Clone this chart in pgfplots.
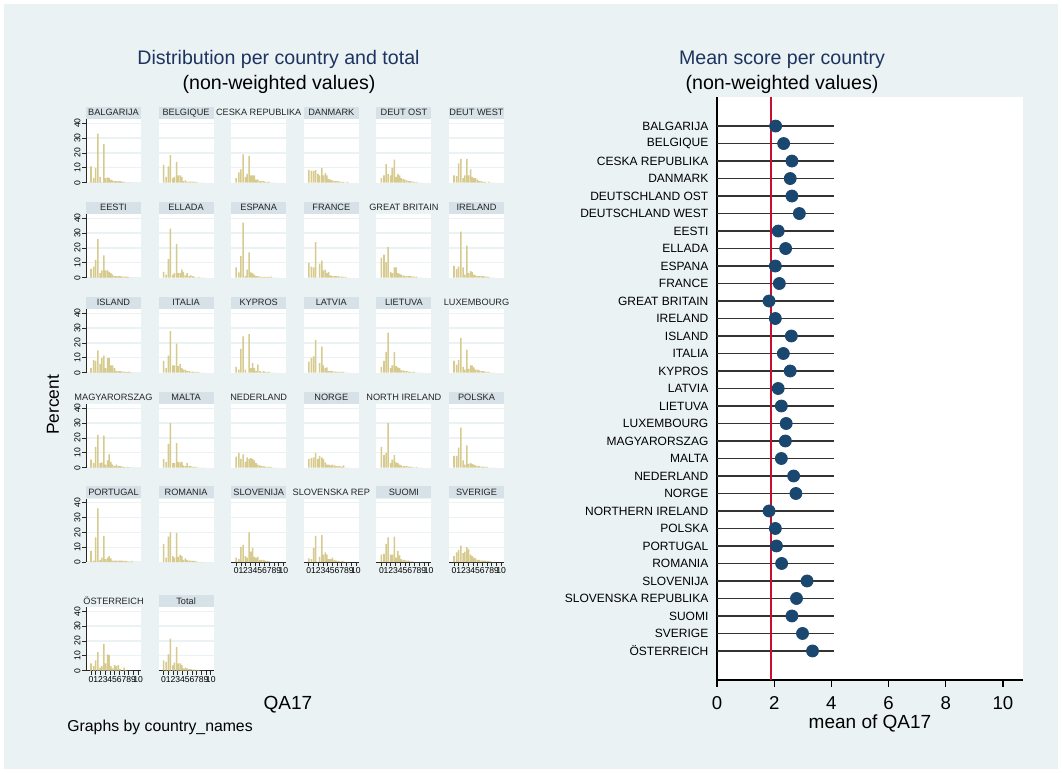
\documentclass[border=0pt]{standalone}
\usepackage{fontspec}
\setmainfont{Liberation Sans}
\usepackage{pgfplots}
\usepackage{pgfplotstable}
\pgfplotsset{compat=1.18}
\definecolor{bgc}{RGB}{234,242,243}
\definecolor{hdr}{RGB}{214,226,231}
\definecolor{gridc}{RGB}{234,242,243}
\definecolor{barc}{RGB}{214,202,142}
\definecolor{dotc}{RGB}{26,71,111}
\definecolor{redc}{RGB}{200,16,46}
\definecolor{titc}{RGB}{30,52,96}

% one row per panel: bar heights (percent) at the bin positions given in row x
\pgfplotstableread{
name k0 k1 k2 k3 k4 k5 k6 k7 k8 k9 k10 k11 k12 k13 k14 k15 k16 k17 k18 k19 k20 k21
x 0 0.55 1.0 1.45 1.95 2.3 2.75 3.1 3.5 3.85 4.2 4.6 5.0 5.4 5.8 6.2 6.6 7.0 7.4 7.8 8.2 8.6
c1 11 3 10 33 4 0 26 3 3.5 3 2 1.5 1 1 1 1 0.7 0.5 0 0 0 0
c2 12 4 11 18.5 3 4 14 5 5 4 1 1.5 0.5 0.7 0.7 0.7 0.5 0.5 0 0 0 0
c3 3 7 9 19 4 6 18 5 5 5 2 2 1 1 1 0.5 0.5 0.5 0 0 0 0
c4 8.5 8 8 8.5 6 5 10 5 6.5 5 2.5 2 1.5 1 1 1 0.8 0.5 0.5 0 0.5 0
c5 3 5 12.5 6 5 10 15.5 4 6 5 3 2.5 2 1.5 1 1 0.7 0.5 0.5 0 0 0
c6 5 4.5 13 16 3 5 16 5 9 4 3 3 2 1 1 0.5 0.5 0 0.5 0 0 0
c7 6 7.5 12 26 3 5 15 5 5 4 3 2 1 1 1 1 0.8 0.8 0.7 0.7 0 0
c8 4 2 12.5 33 2 3 22.5 3 3 5.5 4 1.5 3 1 1.5 1 0.5 0 0.5 0 0 0
c9 7 3.5 14.5 37 1 5.5 17 3.5 3 2 1 1 0.7 0.5 0.5 0.5 0.5 0.5 0.7 0 0 0
c10 10 7.5 7 24 0 9.5 11.5 5 5.5 3 4 1.5 1 1 1 1 0.8 0.8 0.5 0.5 0 0
c11 13.5 15.5 10.5 20.5 4 3 7 7 3 2.5 2 1.5 1 1 1 1 0.8 0.7 0.7 0 0 0
c12 8 6 7.5 31 7 2 21.5 3 4.5 4 2 1.5 1 1 1 1 0.8 0.7 0.5 0 0 0
c13 3 8.5 8 15 6 10 11.5 3 10 10 5 5 3 1 1 1 0.8 0.7 0.5 0.5 0.8 0
c14 8 3 11.5 28 5 5 19.5 4.5 6 3 2 2 1 1 0.7 0.7 0.5 0.5 0.5 0 0 0
c15 4 2 16 24.5 2 0 26 3 6.5 3 1 5.5 1 0.5 1 0.5 0.5 0.5 0 0 0 0
c16 7.5 10 11 22 0 6.5 17.5 5 3 3.5 1 1 1 0.7 0.7 0.5 0.5 0.5 0.5 0 0 0
c17 4 8 14 27 3 5 14 4.5 3.5 3 1.5 1.5 1 1 0.7 0.5 0.5 0.5 0 0 0 0
c18 8 5.5 8.5 23.5 4 2 15.5 2.5 5 5 3.5 2 2 1.5 1 1 0.8 0.5 0.5 0 0 0
c19 5.5 3 14 22 3 3.5 21.5 2 5 9 4 2 1 2 1 1 0.7 0.5 0 0.5 0 0
c20 6 4 16 30 3 3 16.5 4 3.5 4 1.5 1 3 1 1 0.5 0.5 0.5 0 0 0 0
c21 7.5 10 6 9 4 7 6 6.5 6 5 3 2 1.5 1 1 0.7 0.5 0.5 0.5 0 0 0
c22 6 6.5 7 10 6 8 7 6 3.5 2 2 1.5 2 1.5 1 1 1 0.8 1.5 0 0 0
c23 14 8.5 10 30 3 5.5 8.5 3.5 3 2 1.5 1 1 1 0.8 0.7 0.5 0 0.5 0 0 0
c24 8 8 13.5 27 5 2 15 2.5 3 2.5 2 1.5 1 1 0.7 0.7 0.5 0.5 0 0 0 0
c25 7.5 1 16.5 36 1.5 3 17.5 2 3 4 2.5 1 1 1 1 1 1 0.8 0.8 0.5 0 0.8
c26 12 3 17 20 4 3 19.5 3.5 5 4 1.5 2.5 1.5 1 1 0.8 0.8 0.5 0 0 0 0
c27 3 2 10 11.5 4 3 20 7 9.5 3.5 3 3.5 1.5 1.5 1.5 1 0.8 0.5 0 0 0 0
c28 2.5 2 9.5 17.5 0 3.5 18 5 6.5 5 2 2 3 1.5 1 0.8 0.5 0.5 0.5 0 0 0
c29 5 5.5 12 16.5 5 5 17 3 7.5 4.5 2 1.5 1.5 1 1 0.5 0.5 0 0 0 0 0
c30 4 6.5 8 11 6 7 10 8.5 5 4 3 2.5 1.5 1.5 1 1 1 0.7 0.7 0.5 0 0
c31 5 3 7 12.5 2 3 18 5 11 10.5 3 1.5 4 3 4 1 0 2 0.5 0 0 0
c32 7 6 11 21.5 3.5 5.5 16 5 5 4 1.5 2 1.5 1 1 0.7 0.7 0.5 0.5 0 0 0
}\histraw
\pgfplotstabletranspose[colnames from=name]\histT\histraw

\pgfplotsset{
 panel/.style={anchor=south west, scale only axis, width=27.5pt, height=31.75pt,
   xmin=-1.06, xmax=10.6, ymin=0, ymax=42.7,
   axis lines*=left,
   axis background/.style={fill=white},
   x axis line style={draw=none}, y axis line style={draw=none},
   xtick=\empty, ytick={10,20,30,40}, yticklabels={},
   ytick style={draw=none},
   ymajorgrids, grid style={draw=gridc, line width=0.6pt},
   tick align=outside, major tick length=2pt,
   tick style={black!85, line width=0.35pt},
   tick label style={font=\fontsize{4.3}{5}\selectfont, inner sep=0.6pt},
   /pgf/number format/assume math mode=true,
   every axis title shift=0pt,
   title style={at={(0.5,1)}, anchor=south, yshift=0pt, fill=hdr,
     minimum width=27.5pt, minimum height=6pt, inner sep=0pt,
     font=\fontsize{4.6}{5}\selectfont, text=black!85},
 },
 nobox/.style={title style={fill=none}},
 yax/.style={y axis line style={draw=black!85, line width=0.5pt},
   ytick={0,10,20,30,40}, yticklabels={0,10,20,30,40},
   ytick style={draw=black!85}, yticklabel style={rotate=90, anchor=south}},
 xax/.style={x axis line style={draw=black!85, line width=0.5pt},
   xtick={0,1,...,10}},
}

\newcommand\panel[5]{%
\begin{axis}[panel, at={(#1pt,#2pt)}, title={#4}, #5]
\addplot[ybar, bar width=0.32, bar shift=0pt, fill=barc, draw=none] table[x=x, y=#3] {\histT};
\end{axis}}

\begin{document}
\begin{tikzpicture}
\fill[white] (0,0) rectangle (531pt,386.5pt);
\fill[bgc] (2pt,2pt) rectangle (529pt,384.5pt);

% ---- small multiples ----
\panel{43}{295.15}{c1}{BALGARIJA}{yax}
\panel{79.3}{295.15}{c2}{BELGIQUE}{}
\panel{115.6}{295.15}{c3}{CESKA REPUBLIKA}{nobox}
\panel{151.9}{295.15}{c4}{DANMARK}{}
\panel{188.2}{295.15}{c5}{DEUT OST}{}
\panel{224.5}{295.15}{c6}{DEUT WEST}{}

\panel{43}{247.65}{c7}{EESTI}{yax}
\panel{79.3}{247.65}{c8}{ELLADA}{}
\panel{115.6}{247.65}{c9}{ESPANA}{}
\panel{151.9}{247.65}{c10}{FRANCE}{}
\panel{188.2}{247.65}{c11}{GREAT BRITAIN}{nobox}
\panel{224.5}{247.65}{c12}{IRELAND}{}

\panel{43}{200.15}{c13}{ISLAND}{yax}
\panel{79.3}{200.15}{c14}{ITALIA}{}
\panel{115.6}{200.15}{c15}{KYPROS}{}
\panel{151.9}{200.15}{c16}{LATVIA}{}
\panel{188.2}{200.15}{c17}{LIETUVA}{}
\panel{224.5}{200.15}{c18}{LUXEMBOURG}{nobox}

\panel{43}{152.65}{c19}{MAGYARORSZAG}{yax,nobox}
\panel{79.3}{152.65}{c20}{MALTA}{}
\panel{115.6}{152.65}{c21}{NEDERLAND}{nobox}
\panel{151.9}{152.65}{c22}{NORGE}{}
\panel{188.2}{152.65}{c23}{NORTH IRELAND}{nobox}
\panel{224.5}{152.65}{c24}{POLSKA}{}

\panel{43}{105.5}{c25}{PORTUGAL}{yax}
\panel{79.3}{105.5}{c26}{ROMANIA}{}
\panel{115.6}{105.5}{c27}{SLOVENIJA}{xax}
\panel{151.9}{105.5}{c28}{SLOVENSKA REP}{xax,nobox}
\panel{188.2}{105.5}{c29}{SUOMI}{xax}
\panel{224.5}{105.5}{c30}{SVERIGE}{xax}

\panel{43}{51.15}{c31}{ÖSTERREICH}{yax,xax,nobox}
\panel{79.3}{51.15}{c32}{Total}{xax}

% ---- left texts ----
\node[titc, font=\fontsize{9.8}{11}\selectfont, anchor=base] at (139.25pt,354pt) {Distribution per country and total};
\node[black, font=\fontsize{9.8}{11}\selectfont, anchor=base] at (139.5pt,341.9pt) {(non-weighted values)};
\node[black, font=\fontsize{8.7}{10}\selectfont, anchor=base, rotate=90] at (29.5pt,184pt) {Percent};
\node[black, font=\fontsize{9.5}{11}\selectfont, anchor=base] at (144pt,31.75pt) {QA17};
\node[black, font=\fontsize{7.9}{9}\selectfont, anchor=base west, inner sep=0pt] at (33.5pt,20.7pt) {Graphs by country\_names};

% ---- right panel ----
\node[titc, font=\fontsize{9.8}{11}\selectfont, anchor=base] at (391pt,354pt) {Mean score per country};
\node[black, font=\fontsize{9.8}{11}\selectfont, anchor=base] at (391pt,341.9pt) {(non-weighted values)};

\begin{axis}[anchor=south west, at={(358.5pt,46.5pt)}, scale only axis,
  width=153pt, height=291.5pt,
  xmin=0, xmax=10.7, ymin=-0.66, ymax=32.66,
  axis lines*=left, axis line style={black, line width=0.6pt},
  axis background/.style={fill=white},
  xtick={0,2,...,10}, ytick={1,...,31},
  yticklabels={ÖSTERREICH,SVERIGE,SUOMI,SLOVENSKA REPUBLIKA,SLOVENIJA,ROMANIA,PORTUGAL,POLSKA,NORTHERN IRELAND,NORGE,NEDERLAND,MALTA,MAGYARORSZAG,LUXEMBOURG,LIETUVA,LATVIA,KYPROS,ITALIA,ISLAND,IRELAND,GREAT BRITAIN,FRANCE,ESPANA,ELLADA,EESTI,DEUTSCHLAND WEST,DEUTSCHLAND OST,DANMARK,CESKA REPUBLIKA,BELGIQUE,BALGARIJA},
  ytick style={draw=none},
  tick align=outside, major tick length=3.3pt,
  tick style={black, line width=0.6pt},
  /pgf/number format/assume math mode=true,
  xticklabel style={font=\fontsize{9.3}{11}\selectfont, yshift=-1.4pt},
  yticklabel style={font=\fontsize{6}{7}\selectfont, xshift=2.5pt},
  xlabel={mean of QA17},
  xlabel style={font=\fontsize{9.5}{11}\selectfont, at={(axis description cs:0.5,0)}, anchor=base, yshift=-24.3pt},
  clip=false]
\addplot[xcomb, black!80, line width=0.9pt] coordinates {
(4.1,1) (4.1,2) (4.1,3) (4.1,4) (4.1,5) (4.1,6) (4.1,7) (4.1,8) (4.1,9) (4.1,10)
(4.1,11) (4.1,12) (4.1,13) (4.1,14) (4.1,15) (4.1,16) (4.1,17) (4.1,18) (4.1,19) (4.1,20)
(4.1,21) (4.1,22) (4.1,23) (4.1,24) (4.1,25) (4.1,26) (4.1,27) (4.1,28) (4.1,29) (4.1,30) (4.1,31)};
\addplot[redc, line width=1pt] coordinates {(1.88,-0.66) (1.88,32.66)};
\addplot[only marks, mark=*, mark size=3pt, mark options={fill=dotc, draw=dotc}] coordinates {
(2.05,31) (2.33,30) (2.62,29) (2.56,28) (2.62,27) (2.88,26) (2.14,25) (2.40,24)
(2.04,23) (2.18,22) (1.82,21) (2.04,20) (2.60,19) (2.32,18) (2.56,17) (2.14,16)
(2.25,15) (2.42,14) (2.39,13) (2.25,12) (2.68,11) (2.76,10) (1.82,9) (2.04,8)
(2.08,7) (2.26,6) (3.15,5) (2.78,4) (2.62,3) (2.99,2) (3.34,1)};
\end{axis}

\pgfresetboundingbox
\useasboundingbox (0,0) rectangle (531pt,386.5pt);
\end{tikzpicture}
\end{document}
